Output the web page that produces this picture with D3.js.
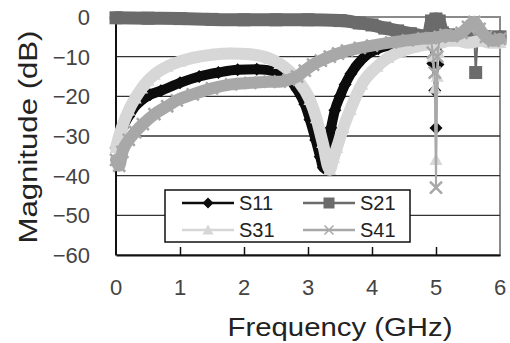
<!DOCTYPE html>
<html>
<head>
<meta charset="utf-8">
<script src="https://cdn.jsdelivr.net/npm/d3@7"></script>
<style>
  html, body { margin: 0; padding: 0; background: #fff; }
  svg { display: block; font-family: "Liberation Sans", Arial, sans-serif; }
</style>
</head>
<body>
<svg id="chart" width="510" height="343"></svg>
<script>
// values: [GHz, dB]
const s11 = [[0,-33],[0.1,-28],[0.2,-25],[0.3,-22.5],[0.4,-21],[0.53,-19.6],[0.7,-18.6],[1.0,-16.6],[1.3,-15],
  [1.6,-14],[1.9,-13.3],[2.2,-13.2],[2.5,-13.8],[2.7,-15.5],[2.83,-18.3],[2.95,-22],[3.03,-25.9],[3.12,-31],
  [3.19,-35.2],[3.24,-38],[3.3,-33],[3.36,-28],[3.42,-23.5],[3.5,-20],[3.58,-17],[3.67,-14.3],[3.77,-12],
  [3.9,-9.8],[4.1,-8],[4.4,-6.8],[4.7,-6.2],[4.9,-6],[5.1,-5.5],[5.4,-5],[5.7,-5.5],[6.0,-5.5]]
const s11Dips = [[4.95,-11.7],[4.98,-18.5],[5.0,-28],[5.03,-12]]

const s21 = [[0,-0.2],[0.5,-0.3],[1.0,-0.4],[1.5,-0.6],[2.0,-0.7],[2.5,-0.7],[3.0,-0.7],[3.5,-0.9],[3.8,-1.5],
  [4.0,-2.0],[4.2,-2.8],[4.4,-3.5],[4.6,-4.2],[4.8,-4.8],[4.88,-5],[4.93,-1],[5.0,-0.5],[5.05,-1],[5.1,-4],
  [5.2,-4.5],[5.3,-5],[5.45,-5],[5.6,-5.5],[5.65,-5.5],[5.8,-5],[5.9,-5.2],[6.0,-5]]
const s21Dips = [[5.62,-14]]

const s31 = [[0,-33],[0.05,-30],[0.1,-27.5],[0.2,-23.5],[0.3,-20.5],[0.4,-18],[0.5,-16],[0.6,-14.5],[0.8,-12.5],
  [1.0,-11.2],[1.2,-10.3],[1.5,-9.5],[1.8,-9.2],[2.1,-9.4],[2.4,-10.5],[2.56,-11.8],[2.7,-13.5],[2.83,-15.8],
  [3.03,-20.9],[3.13,-25.5],[3.23,-31.7],[3.34,-38.5],[3.4,-35.5],[3.45,-33],[3.55,-28],[3.66,-23.4],[3.84,-17],
  [4.08,-12.5],[4.25,-10.3],[4.44,-8.7],[4.65,-7.6],[4.83,-7],[4.92,-6.8],[5.06,-6.5],[5.2,-6],[5.35,-6],
  [5.5,-6.5],[5.7,-6],[5.85,-6.5],[6.0,-6.5]]
const s31Dips = [[4.95,-10],[4.98,-18],[5.0,-36],[5.02,-15],[5.04,-9]]

const s41 = [[0,-36],[0.05,-37.5],[0.1,-34],[0.2,-31],[0.3,-29],[0.42,-27],[0.6,-24.5],[0.8,-22.5],[0.95,-21],
  [1.2,-19.5],[1.5,-18],[1.8,-17],[2.1,-16.6],[2.4,-16.3],[2.56,-16.3],[2.7,-15.8],[2.83,-15],[2.95,-13.5],
  [3.08,-12],[3.2,-11],[3.34,-10],[3.47,-9.2],[3.61,-8.5],[3.81,-7.8],[4.0,-7.2],[4.3,-6.4],[4.56,-5.9],
  [4.8,-5.4],[4.92,-5.3],[5.06,-5],[5.15,-4.5],[5.25,-4.8],[5.4,-4],[5.5,-2.5],[5.6,-1.2],[5.68,-3],
  [5.78,-5],[5.9,-6],[6.0,-5.5]]
const s41Dips = [[4.95,-9],[4.98,-14],[5.0,-43],[5.02,-10]]

const xTicks = [0, 1, 2, 3, 4, 5, 6]
const yTicks = [0, -10, -20, -30, -40, -50, -60]

const series = [
  { name: 'S11', pts: s11, dips: s11Dips, color: '#0c0c0c', shape: 'diamond', band: 10 },
  { name: 'S21', pts: s21, dips: s21Dips, color: '#6b6b6b', shape: 'square', band: 13 },
  { name: 'S31', pts: s31, dips: s31Dips, color: '#d7d7d7', shape: 'triangle', band: 12 },
  { name: 'S41', pts: s41, dips: s41Dips, color: '#a8a8a8', shape: 'cross', band: 12 }
]

const svg = d3.select('#chart')
const x = d3.scaleLinear().domain([0, 6]).range([116, 500])
const y = d3.scaleLinear().domain([-60, 0]).range([255, 17])

// plot frame
svg.append('rect')
  .attr('x', x(0)).attr('y', y(0))
  .attr('width', x(6) - x(0)).attr('height', y(-60) - y(0))
  .attr('fill', 'none').attr('stroke', '#8a8a8a').attr('stroke-width', 2)

// grid lines
svg.append('g').selectAll('line')
  .data(yTicks.filter(d => d < 0 && d > -60))
  .join('line')
  .attr('x1', x(0)).attr('x2', x(6))
  .attr('y1', d => y(d)).attr('y2', d => y(d))
  .attr('stroke', '#333').attr('stroke-width', 1.3)

// axes
const xAxis = svg.append('g').attr('transform', `translate(0,${y(-60)})`)
  .call(d3.axisBottom(x).tickValues(xTicks.slice(1, -1)).tickSizeInner(-8).tickSizeOuter(0).tickFormat(''))
xAxis.select('.domain').attr('stroke', '#111').attr('stroke-width', 2)
xAxis.selectAll('.tick line').attr('stroke', '#111').attr('stroke-width', 1.5)

svg.append('line')
  .attr('x1', x(0)).attr('x2', x(0)).attr('y1', y(0)).attr('y2', y(-60))
  .attr('stroke', '#111').attr('stroke-width', 2)

svg.append('g').selectAll('text')
  .data(xTicks).join('text')
  .attr('x', d => x(d)).attr('y', 295)
  .attr('text-anchor', 'middle')
  .attr('font-size', 22).attr('fill', '#444')
  .text(d => d)

svg.append('g').selectAll('text')
  .data(yTicks).join('text')
  .attr('x', 90).attr('y', d => y(d)).attr('dy', '0.36em')
  .attr('text-anchor', 'end')
  .attr('font-size', 22).attr('fill', '#444')
  .text(d => d < 0 ? '\u2212' + Math.abs(d) : d)

svg.append('text')
  .attr('transform', 'translate(37,137) rotate(-90)')
  .attr('text-anchor', 'middle')
  .attr('font-size', 26).attr('fill', '#222')
  .attr('textLength', 213).attr('lengthAdjust', 'spacingAndGlyphs')
  .text('Magnitude (dB)')

svg.append('text')
  .attr('x', 340).attr('y', 336)
  .attr('text-anchor', 'middle')
  .attr('font-size', 26).attr('fill', '#222')
  .attr('textLength', 225).attr('lengthAdjust', 'spacingAndGlyphs')
  .text('Frequency (GHz)')

// marker shapes
function marker(shape, s) {
  const h = s / 2
  if (shape === 'diamond') return `M0,${-h}L${h},0L0,${h}L${-h},0Z`
  if (shape === 'square') return `M${-h},${-h}h${s}v${s}h${-s}Z`
  if (shape === 'triangle') return `M0,${-h}L${h},${h * 0.8}L${-h},${h * 0.8}Z`
  return `M${-h},${-h}L${h},${h}M${h},${-h}L${-h},${h}`
}

const band = d3.line().x(d => x(d[0])).y(d => y(d[1])).curve(d3.curveMonotoneX)
const thin = d3.line().x(d => x(d[0])).y(d => y(d[1]))

const traces = svg.append('g')
series.forEach(s => {
  const g = traces.append('g')
  const all = s.pts.concat(s.dips).sort((a, b) => a[0] - b[0])
  g.append('path').attr('d', thin(all))
    .attr('fill', 'none').attr('stroke', s.color).attr('stroke-width', 2)
  g.append('path').attr('d', band(s.pts))
    .attr('fill', 'none').attr('stroke', s.color)
    .attr('stroke-width', s.band).attr('stroke-linejoin', 'round').attr('stroke-linecap', 'round')
  g.selectAll('.m').data(all).join('path')
    .attr('class', 'm')
    .attr('transform', d => `translate(${x(d[0])},${y(d[1])})`)
    .attr('d', marker(s.shape, s.shape === 'cross' ? 12 : 13))
    .attr('fill', s.shape === 'cross' ? 'none' : s.color)
    .attr('stroke', s.color)
    .attr('stroke-width', s.shape === 'cross' ? 2.5 : 0)
})

// legend
const lg = svg.append('g')
lg.append('rect').attr('x', 165).attr('y', 190).attr('width', 245).attr('height', 52)
  .attr('fill', '#fff').attr('stroke', '#111').attr('stroke-width', 1.5)
const legendPos = [[182, 203], [303, 203], [182, 230], [303, 230]]
series.forEach((s, i) => {
  const [lx, ly] = legendPos[i]
  lg.append('line').attr('x1', lx).attr('x2', lx + 52).attr('y1', ly).attr('y2', ly)
    .attr('stroke', s.color).attr('stroke-width', 2.5)
  lg.append('path').attr('transform', `translate(${lx + 26},${ly})`)
    .attr('d', marker(s.shape, s.shape === 'cross' ? 9 : 11))
    .attr('fill', s.shape === 'cross' ? 'none' : s.color)
    .attr('stroke', s.color).attr('stroke-width', s.shape === 'cross' ? 1.5 : 0)
  lg.append('text').attr('x', lx + 57).attr('y', ly).attr('dy', '0.36em')
    .attr('font-size', 20).attr('fill', '#222')
    .text(s.name)
})
</script>
</body>
</html>
